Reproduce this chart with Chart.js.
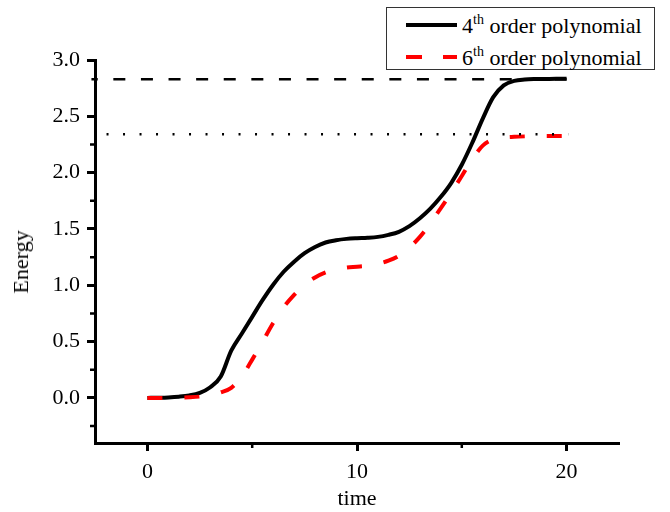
<!DOCTYPE html>
<html>
<head>
<meta charset="utf-8">
<script src="https://cdn.jsdelivr.net/npm/chart.js@4/dist/chart.umd.min.js"></script>
<style>
  body { margin: 0; background: #fff; }
  #wrap { position: relative; width: 670px; height: 512px; font-family: 'Liberation Serif', 'Times New Roman', serif; }
  #legend {
    position: absolute; left: 386px; top: 7px; width: 269px; height: 63px;
    border: 1px solid #333; background: #fff; box-sizing: border-box;
    font-size: 22px; color: #000;
  }
  .row { position: absolute; left: 75px; line-height: 25px; white-space: nowrap; }
  .row sup { font-size: 14px; vertical-align: 9px; line-height: 0; }
  .swatch { position: absolute; left: 19px; }
  #ytitle {
    position: absolute; left: 21px; top: 262px; font-size: 22px; color: #000;
    transform: translate(-50%, -50%) rotate(-90deg); white-space: nowrap; line-height: 26px;
  }
</style>
</head>
<body>
<div id="wrap">
  <canvas id="chart" width="670" height="512"></canvas>
  <div id="ytitle">Energy</div>
  <div id="legend">
    <svg class="swatch" style="top:14px" width="52" height="6"><line x1="0" y1="3" x2="51" y2="3" stroke="#000" stroke-width="4"/></svg>
    <div class="row" style="top:5px">4<sup>th</sup> order polynomial</div>
    <svg class="swatch" style="top:46px" width="52" height="6"><line x1="0" y1="3" x2="51" y2="3" stroke="#f00" stroke-width="4" stroke-dasharray="16 21"/></svg>
    <div class="row" style="top:37px">6<sup>th</sup> order polynomial</div>
  </div>
</div>
<script>
const time = [0, 0.5, 1, 1.5, 2, 2.5, 3, 3.5, 4, 4.5, 5, 5.5, 6, 6.5, 7, 7.5, 8, 8.5, 9, 9.5, 10,
  10.5, 11, 11.5, 12, 12.5, 13, 13.5, 14, 14.5, 15, 15.5, 16, 16.5, 17, 17.5, 18, 18.5, 19, 19.5, 20];

// 4th order polynomial fit
const energy4 = [0, 0.002, 0.005, 0.011, 0.022, 0.045, 0.095, 0.19, 0.42, 0.57, 0.72, 0.87, 1.005, 1.12, 1.21, 1.285, 1.34, 1.38, 1.40, 1.412, 1.418,
  1.422, 1.43, 1.448, 1.475, 1.525, 1.595, 1.68, 1.785, 1.91, 2.07, 2.265, 2.48, 2.67, 2.775, 2.815, 2.827, 2.831, 2.832, 2.833, 2.833];

// 6th order polynomial fit
const energy6 = [0, 0, 0.001, 0.003, 0.006, 0.012, 0.025, 0.05, 0.09, 0.19, 0.34, 0.50, 0.665, 0.805, 0.915, 1.005, 1.07, 1.115, 1.143, 1.158, 1.165,
  1.173, 1.19, 1.218, 1.262, 1.335, 1.43, 1.55, 1.685, 1.825, 1.97, 2.12, 2.24, 2.295, 2.312, 2.318, 2.322, 2.325, 2.325, 2.325, 2.325];

// limiting levels
const limitTime4 = [-2.67, 20];
const limit4 = [2.83, 2.83];
const limitTime6 = [-1.95, 20.1];
const limit6 = [2.34, 2.34];

const xMajor = [0, 10, 20];
const xMinor = [5, 15];
const yMajor = [0, 0.5, 1, 1.5, 2, 2.5, 3];
const yMinor = [-0.25, 0.25, 0.75, 1.25, 1.75, 2.25];

const pts = (xs, ys) => xs.map((x, i) => ({ x: x, y: ys[i] }));

Chart.defaults.font.family = "'Liberation Serif', 'Times New Roman', serif";
Chart.defaults.color = '#000';

const minorTicks = {
  id: 'minorTicks',
  afterDraw(chart) {
    const { ctx, chartArea, scales: { x, y } } = chart;
    ctx.save();
    ctx.strokeStyle = '#000';
    ctx.lineWidth = 2.5;
    ctx.beginPath();
    yMinor.forEach(v => {
      const py = y.getPixelForValue(v);
      ctx.moveTo(chartArea.left - 5, py);
      ctx.lineTo(chartArea.left, py);
    });
    xMinor.forEach(v => {
      const px = x.getPixelForValue(v);
      ctx.moveTo(px, chartArea.bottom);
      ctx.lineTo(px, chartArea.bottom + 5);
    });
    ctx.stroke();
    ctx.restore();
  }
};

new Chart(document.getElementById('chart'), {
  type: 'line',
  data: {
    datasets: [
      {
        data: pts(limitTime6, limit6),
        borderColor: '#000', borderWidth: 2.5, borderDash: [2, 14.5],
        pointRadius: 0, clip: false
      },
      {
        data: pts(time, energy6),
        borderColor: '#f00', borderWidth: 4, borderDash: [15, 22],
        pointRadius: 0, cubicInterpolationMode: 'monotone'
      },
      {
        data: pts(time, energy4),
        borderColor: '#000', borderWidth: 4,
        pointRadius: 0, cubicInterpolationMode: 'monotone'
      },
      {
        data: pts(limitTime4, limit4),
        borderColor: '#000', borderWidth: 2.5, borderDash: [12, 15.6], borderDashOffset: 5.7,
        pointRadius: 0, clip: false
      }
    ]
  },
  options: {
    responsive: false,
    animation: false,
    layout: { padding: { top: 60, right: 51, left: 0, bottom: 0 } },
    plugins: { legend: { display: false }, tooltip: { enabled: false } },
    scales: {
      x: {
        type: 'linear', min: -2.5, max: 22.5,
        afterBuildTicks: s => { s.ticks = xMajor.map(v => ({ value: v })); },
        afterFit: s => { s.height = 69; },
        grid: { drawOnChartArea: false, drawTicks: true, tickLength: 8, tickWidth: 3, tickColor: '#000' },
        border: { display: true, color: '#000', width: 3 },
        ticks: { font: { size: 22 }, padding: 8, maxRotation: 0 },
        title: { display: true, text: 'time', font: { size: 22 }, padding: { top: 0, bottom: 0 } }
      },
      y: {
        min: -0.4, max: 3.0,
        afterBuildTicks: s => { s.ticks = yMajor.map(v => ({ value: v })); },
        afterFit: s => { s.width = 95; },
        grid: { drawOnChartArea: false, drawTicks: true, tickLength: 8, tickWidth: 3, tickColor: '#000' },
        border: { display: true, color: '#000', width: 3 },
        ticks: { font: { size: 22 }, padding: 7, callback: v => v.toFixed(1) }
      }
    }
  },
  plugins: [minorTicks]
});
</script>
</body>
</html>
